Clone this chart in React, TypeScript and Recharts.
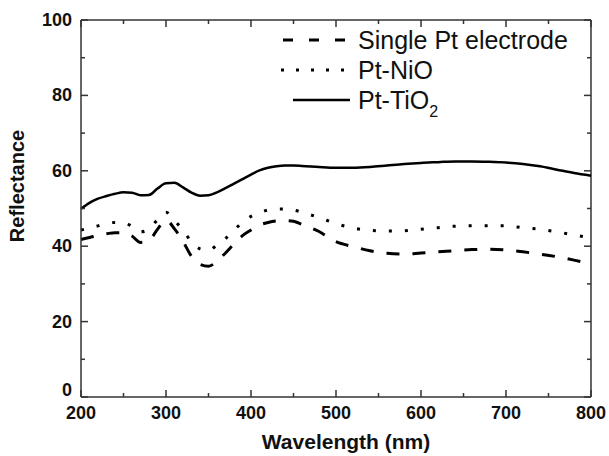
import { LineChart, Line, XAxis, YAxis, ReferenceLine, Legend, Label } from "recharts";

// wavelength grid shared by the three spectra (nm)
const wavelength = [
  200, 210, 220, 230, 240, 250, 260, 270, 280, 290, 300, 310, 320, 330, 340, 350, 360, 370, 380, 390,
  400, 410, 420, 430, 440, 450, 460, 480, 500, 520, 540, 560, 580, 600, 620, 640, 660, 680, 700, 720,
  740, 760, 780, 800,
];

const singlePt = [
  41.8, 42.3, 42.9, 43.3, 43.6, 43.6, 42.7, 41.0, 41.5, 44.5, 46.9, 44.6, 41.3, 37.3, 35.2, 34.7, 36.0, 38.2, 40.6, 42.8,
  44.3, 45.6, 46.3, 46.7, 46.8, 46.6, 45.8, 43.9, 41.2, 39.9, 38.8, 38.1, 37.9, 38.2, 38.5, 38.8, 39.1, 39.2, 39.0, 38.5,
  37.9, 37.2, 36.3, 35.3,
];

const ptNiO = [
  44.3, 44.8, 45.4, 46.0, 46.3, 46.3, 45.2, 43.8, 44.6, 47.0, 49.0, 46.8, 44.2, 41.2, 39.3, 38.9, 40.3, 42.0, 44.3, 46.3,
  47.9, 48.9, 49.6, 49.9, 49.9, 49.6, 49.0, 47.6, 46.0, 44.8, 44.2, 44.0, 44.1, 44.5, 44.9, 45.3, 45.4, 45.4, 45.4, 44.9,
  44.5, 43.8, 43.0, 42.2,
];

const ptTiO2 = [
  49.9, 51.5, 52.6, 53.3, 53.9, 54.3, 54.2, 53.5, 53.6, 55.3, 56.7, 56.8, 55.6, 54.2, 53.4, 53.5, 54.3, 55.4, 56.6, 57.8,
  59.0, 60.1, 60.8, 61.2, 61.4, 61.4, 61.3, 61.0, 60.8, 60.8, 61.0, 61.4, 61.8, 62.1, 62.3, 62.5, 62.5, 62.4, 62.2, 61.8,
  61.2, 60.3, 59.4, 58.7,
];

const xTicks = [200, 250, 300, 350, 400, 450, 500, 550, 600, 650, 700, 750, 800];
const yTicks = [0, 10, 20, 30, 40, 50, 60, 70, 80, 90, 100];

const data = wavelength.map((w, i) => ({
  wavelength: w,
  single: singlePt[i],
  nio: ptNiO[i],
  tio2: ptTiO2[i],
}));

// plot box, fixed by the chart margins and axis sizes below
const PLOT = { left: 81, right: 591, top: 20, bottom: 397 };
const FONT = "Arial, 'Liberation Sans', sans-serif";
const AXIS = "#333";
const INK = "#111";

const XTick = (props: any) => {
  const { x, y, payload } = props;
  if (payload.value % 100 !== 0) return <g />;
  return (
    <text x={x} y={y + 22} textAnchor="middle" fontFamily={FONT} fontWeight="bold" fontSize={18} fill={INK}>
      {payload.value}
    </text>
  );
};

const YTick = (props: any) => {
  const { x, y, payload } = props;
  if (payload.value % 20 !== 0) return <g />;
  return (
    <text
      x={x - 9}
      y={y + (payload.value === 0 ? -1 : 6)}
      textAnchor="end"
      fontFamily={FONT}
      fontWeight="bold"
      fontSize={18}
      fill={INK}
    >
      {payload.value}
    </text>
  );
};

const legendRows = [
  { label: "Single Pt electrode", dash: "10 16", x1: 283, width: 3 },
  { label: "Pt-NiO", dash: "3 12", x1: 281, width: 3 },
  { label: "Pt-TiO", dash: undefined, x1: 293, width: 2.5 },
];

// inward tick marks on all four sides of the frame
const FrameTicks = () => {
  const px = (v: number) => PLOT.left + ((v - 200) / 600) * (PLOT.right - PLOT.left);
  const py = (v: number) => PLOT.bottom - (v / 100) * (PLOT.bottom - PLOT.top);
  return (
    <g stroke={AXIS} strokeWidth={1.5}>
      {xTicks.map((v) => {
        const len = v % 100 === 0 ? 7 : 4;
        const x = px(v);
        return (
          <g key={`x${v}`}>
            <line x1={x} y1={PLOT.bottom} x2={x} y2={PLOT.bottom - len} />
            <line x1={x} y1={PLOT.top} x2={x} y2={PLOT.top + len} />
          </g>
        );
      })}
      {yTicks.map((v) => {
        const len = v % 20 === 0 ? 7 : 4;
        const y = py(v);
        return (
          <g key={`y${v}`}>
            <line x1={PLOT.left} y1={y} x2={PLOT.left + len} y2={y} />
            <line x1={PLOT.right} y1={y} x2={PLOT.right - len} y2={y} />
          </g>
        );
      })}
    </g>
  );
};

const ChartLegend = () => (
  <svg width={609} height={456} style={{ display: "block", pointerEvents: "none" }}>
    <FrameTicks />
    {legendRows.map((r, i) => {
      const cy = 40 + i * 30;
      return (
        <g key={r.label}>
          <line
            x1={r.x1}
            y1={cy}
            x2={350}
            y2={cy}
            stroke="#000"
            strokeWidth={r.width}
            strokeDasharray={r.dash}
          />
          <text x={358} y={cy + 9} fontFamily={FONT} fontSize={25} fill={INK}>
            {r.label}
            {i === 2 && (
              <tspan fontSize={16} dy={8}>
                2
              </tspan>
            )}
          </text>
        </g>
      );
    })}
  </svg>
);

export default function App() {
  return (
    <div style={{ position: "absolute", left: 0, top: 0, background: "#fff" }}>
      <LineChart width={609} height={456} data={data} margin={{ top: 20, right: 18, bottom: 29, left: 21 }}>
        <XAxis
          dataKey="wavelength"
          type="number"
          domain={[200, 800]}
          ticks={xTicks}
          interval={0}
          height={30}
          tickSize={0}
          tickMargin={0}
          tickLine={false}
          tick={<XTick />}
          axisLine={{ stroke: AXIS, strokeWidth: 1.5 }}
        >
          <Label
            content={() => (
              <text x={346} y={449} textAnchor="middle" fontFamily={FONT} fontWeight="bold" fontSize={21} fill={INK}>
                Wavelength (nm)
              </text>
            )}
          />
        </XAxis>
        <YAxis
          type="number"
          domain={[0, 100]}
          ticks={yTicks}
          interval={0}
          width={60}
          tickSize={0}
          tickMargin={0}
          tickLine={false}
          tick={<YTick />}
          axisLine={{ stroke: AXIS, strokeWidth: 1.5 }}
        >
          <Label
            content={() => (
              <text
                x={24}
                y={186}
                transform="rotate(-90 24 186)"
                textAnchor="middle"
                fontFamily={FONT}
                fontWeight="bold"
                fontSize={20}
                fill={INK}
              >
                Reflectance
              </text>
            )}
          />
        </YAxis>
        <ReferenceLine y={100} stroke={AXIS} strokeWidth={1.5} />
        <ReferenceLine x={800} stroke={AXIS} strokeWidth={1.5} />
        <Legend
          layout="vertical"
          align="center"
          verticalAlign="middle"
          wrapperStyle={{ left: 0, top: 0, width: 609, height: 456 }}
          content={() => <ChartLegend />}
        />
        <Line
          dataKey="single"
          name="Single Pt electrode"
          type="monotone"
          stroke="#000"
          strokeWidth={3}
          strokeDasharray="13 13"
          dot={false}
          isAnimationActive={false}
        />
        <Line
          dataKey="nio"
          name="Pt-NiO"
          type="monotone"
          stroke="#000"
          strokeWidth={3}
          strokeDasharray="3 13"
          dot={false}
          isAnimationActive={false}
        />
        <Line
          dataKey="tio2"
          name="Pt-TiO2"
          type="monotone"
          stroke="#000"
          strokeWidth={2.5}
          dot={false}
          isAnimationActive={false}
        />
      </LineChart>
    </div>
  );
}
